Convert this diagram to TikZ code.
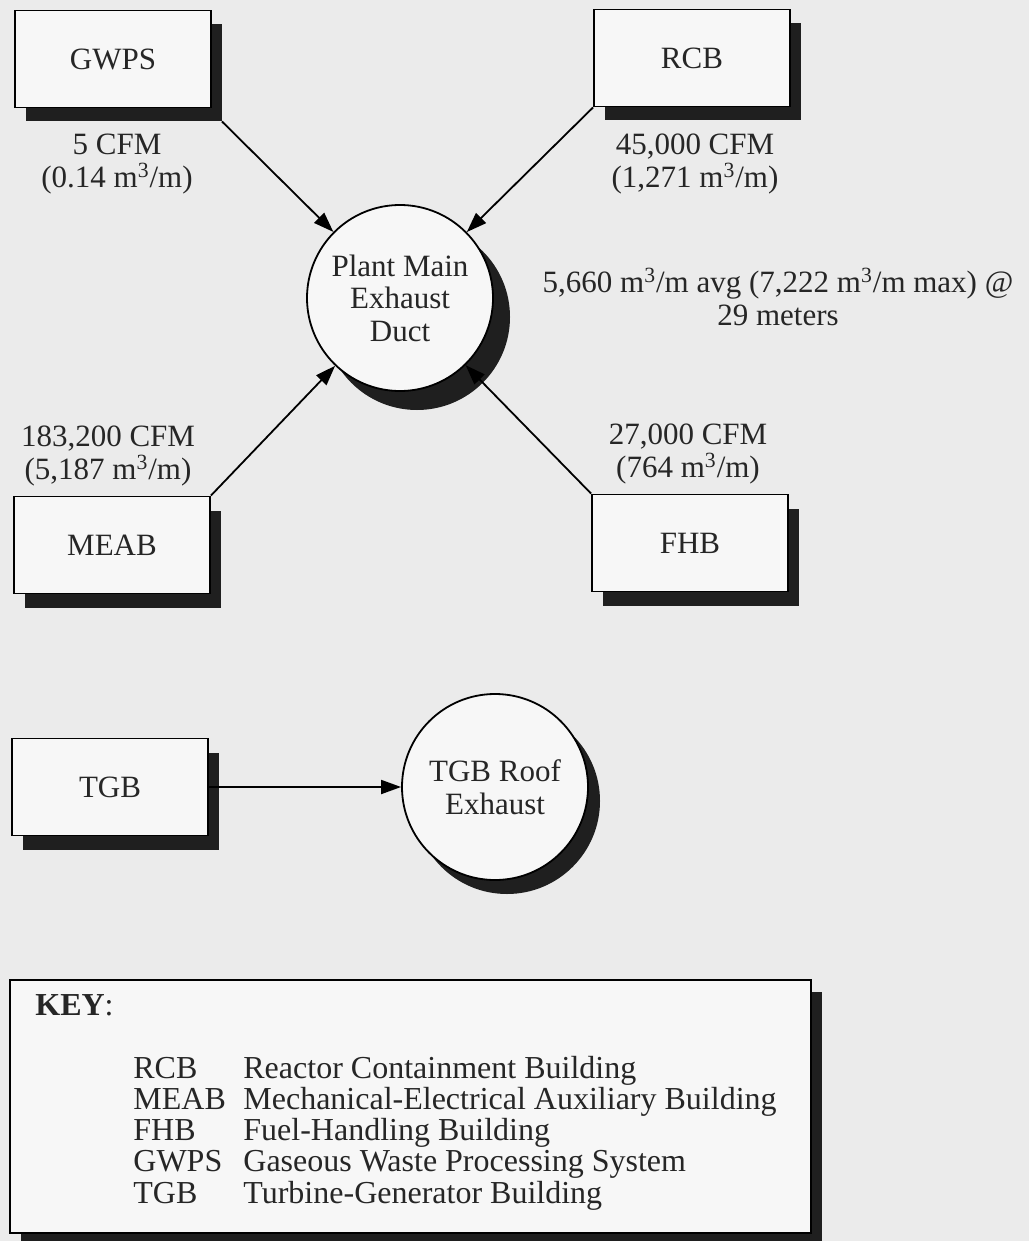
\documentclass[tikz,border=0pt]{standalone}
\usepackage{fontspec}
\setmainfont{Liberation Serif}
\usetikzlibrary{arrows.meta, calc, shadows}

\tikzset{
  bldg/.style={draw, line width=0.9pt, fill=black!3, minimum width=98pt, minimum height=48.5pt,
    font=\fontsize{15.5}{16}\selectfont,
    drop shadow={shadow xshift=5.5pt, shadow yshift=-7pt, fill=black!88, opacity=1}},
  exhaust/.style={draw, circle, line width=0.9pt, fill=black!3, minimum size=93pt, inner sep=0pt,
    align=center, font=\fontsize{15.5}{16.25}\selectfont},
  flow/.style={align=center, inner sep=0pt, font=\fontsize{15.5}{16.5}\selectfont},
  feed/.style={line width=0.9pt, -{Triangle[length=10pt, width=7pt]}},
  keytext/.style={anchor=base west, inner sep=0pt, font=\fontsize{16}{16}\selectfont},
}
\newcommand{\cubm}{m\textsuperscript{3}/m}

\begin{document}
\begin{tikzpicture}[x=0.5pt, y=-0.5pt, text=black!85]
\fill[black!8] (0,0) rectangle (1029,1241);
\useasboundingbox (0,0) rectangle (1029,1241);
% buildings feeding the plant main exhaust duct
\node[bldg] (gwps) at (113,59) {GWPS};
\node[bldg] (rcb) at (692,58) {RCB};
\node[bldg] (meab) at (112,545) {MEAB};
\node[bldg] (fhb) at (690,543) {FHB};
\node[exhaust, drop shadow={shadow xshift=8.5pt, shadow yshift=-9.5pt, fill=black!88, opacity=1}]
  (duct) at (400,298) {Plant Main\\Exhaust\\Duct};
% flow rates
\node[flow] (gwpsflow) at (117,164) {5 CFM\\(0.14 \cubm)};
\node[flow] (rcbflow) at (695,164) {45,000 CFM\\(1,271 \cubm)};
\node[flow] (meabflow) at (108,456) {183,200 CFM\\(5,187 \cubm)};
\node[flow] (fhbflow) at (688,454) {27,000 CFM\\(764 \cubm)};
\node[flow] (stack) at (778,297) {5,660 \cubm{} avg (7,222 \cubm{} max) @\\29 meters};
\draw[feed] ($(gwps.south east)+(10,13)$) -- (duct);
\draw[feed] (rcb.south west) -- (duct);
\draw[feed] (meab.north east) -- (duct);
\draw[feed] (fhb.north west) -- (duct);
% turbine building has its own roof exhaust
\node[bldg] (tgb) at (110,787) {TGB};
\node[exhaust, drop shadow={shadow xshift=6pt, shadow yshift=-7pt, fill=black!88, opacity=1}]
  (roof) at (495,787) {TGB Roof\\Exhaust};
\draw[feed] (tgb.east) -- (roof);
% key
\node[draw, line width=0.9pt, fill=black!3, minimum width=400.5pt, minimum height=126.5pt,
  drop shadow={shadow xshift=5.5pt, shadow yshift=-6pt, fill=black!88, opacity=1}]
  (key) at (410.5,1106.5) {};
\node[keytext] (keytitle) at (35,1015) {\textbf{KEY}:};
\foreach \abbr/\name [count=\i] in {RCB/Reactor Containment Building,
    MEAB/Mechanical-Electrical Auxiliary Building, FHB/Fuel-Handling Building,
    GWPS/Gaseous Waste Processing System, TGB/Turbine-Generator Building}{
  \node[keytext] (abbr\i) at (133,{1078+31.3*(\i-1)}) {\abbr};
  \node[keytext] (name\i) at (243,{1078+31.3*(\i-1)}) {\name};
}
\end{tikzpicture}
\end{document}
